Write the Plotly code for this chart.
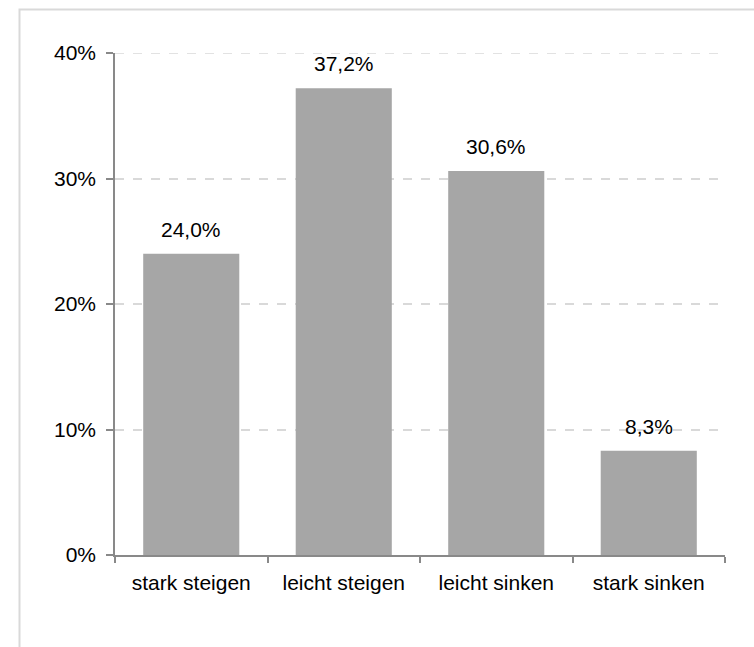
import plotly.graph_objects as go

categories = ["stark steigen", "leicht steigen", "leicht sinken", "stark sinken"]
values = [24.0, 37.2, 30.6, 8.3]
labels = ["24,0%", "37,2%", "30,6%", "8,3%"]
y_ticks = [0, 10, 20, 30, 40]
y_tick_labels = ["0%", "10%", "20%", "30%", "40%"]

W, H = 754, 647
L, R, T, B = 115, 29, 53, 92
pw, ph = W - L - R, H - T - B

FONT = "Liberation Sans, Arial, sans-serif"

fig = go.Figure()
fig.add_trace(go.Bar(
    x=categories, y=values,
    marker=dict(color="#A6A6A6", line=dict(width=0)),
    width=0.63,
    hoverinfo="skip",
))

for c, v, t in zip(categories, values, labels):
    fig.add_annotation(x=c, y=v, text=t, showarrow=False, yanchor="bottom",
                       yshift=11, font=dict(family=FONT, size=21, color="#000000"))

def px2paper_x(p):
    return (p - L) / pw

def px2paper_y(p):
    return (H - B - p) / ph

fig.add_shape(type="rect", xref="paper", yref="paper",
              x0=px2paper_x(19.5), x1=px2paper_x(770),
              y0=px2paper_y(670), y1=px2paper_y(9.5),
              line=dict(color="#D9D9D9", width=2), fillcolor="rgba(0,0,0,0)",
              layer="below")

# top gridline (Plotly drops gridlines at the range edge)
fig.add_shape(type="line", xref="paper", yref="y",
              x0=0, x1=1, y0=y_ticks[-1], y1=y_ticks[-1],
              line=dict(color="#D9D9D9", width=1.5, dash="dash"), layer="below")

fig.update_layout(
    width=W, height=H,
    margin=dict(l=L, r=R, t=T, b=B, pad=0),
    paper_bgcolor="white", plot_bgcolor="white",
    showlegend=False,
    font=dict(family=FONT, size=21, color="#000000"),
    xaxis=dict(
        type="category",
        showline=True, linecolor="#898989", linewidth=1.5,
        ticks="outside", tickson="boundaries", ticklen=6, tickcolor="#898989", tickwidth=1.5,
        showgrid=False, zeroline=False,
        tickfont=dict(family=FONT, size=21, color="#000000"),
        ticklabelstandoff=8,
        range=[-0.5, 3.5],
    ),
    yaxis=dict(
        range=[0, 40],
        tickvals=y_ticks, ticktext=y_tick_labels,
        showline=True, linecolor="#898989", linewidth=1.5,
        ticks="outside", ticklen=7, tickcolor="#898989", tickwidth=1.5,
        showgrid=True, gridcolor="#D9D9D9", gridwidth=1.5, griddash="dash",
        zeroline=False,
        tickfont=dict(family=FONT, size=21, color="#000000"),
        ticklabelstandoff=6,
    ),
)

fig.write_html("out.html", post_script="document.body.style.margin='0';",
               config={"displayModeBar": False})
